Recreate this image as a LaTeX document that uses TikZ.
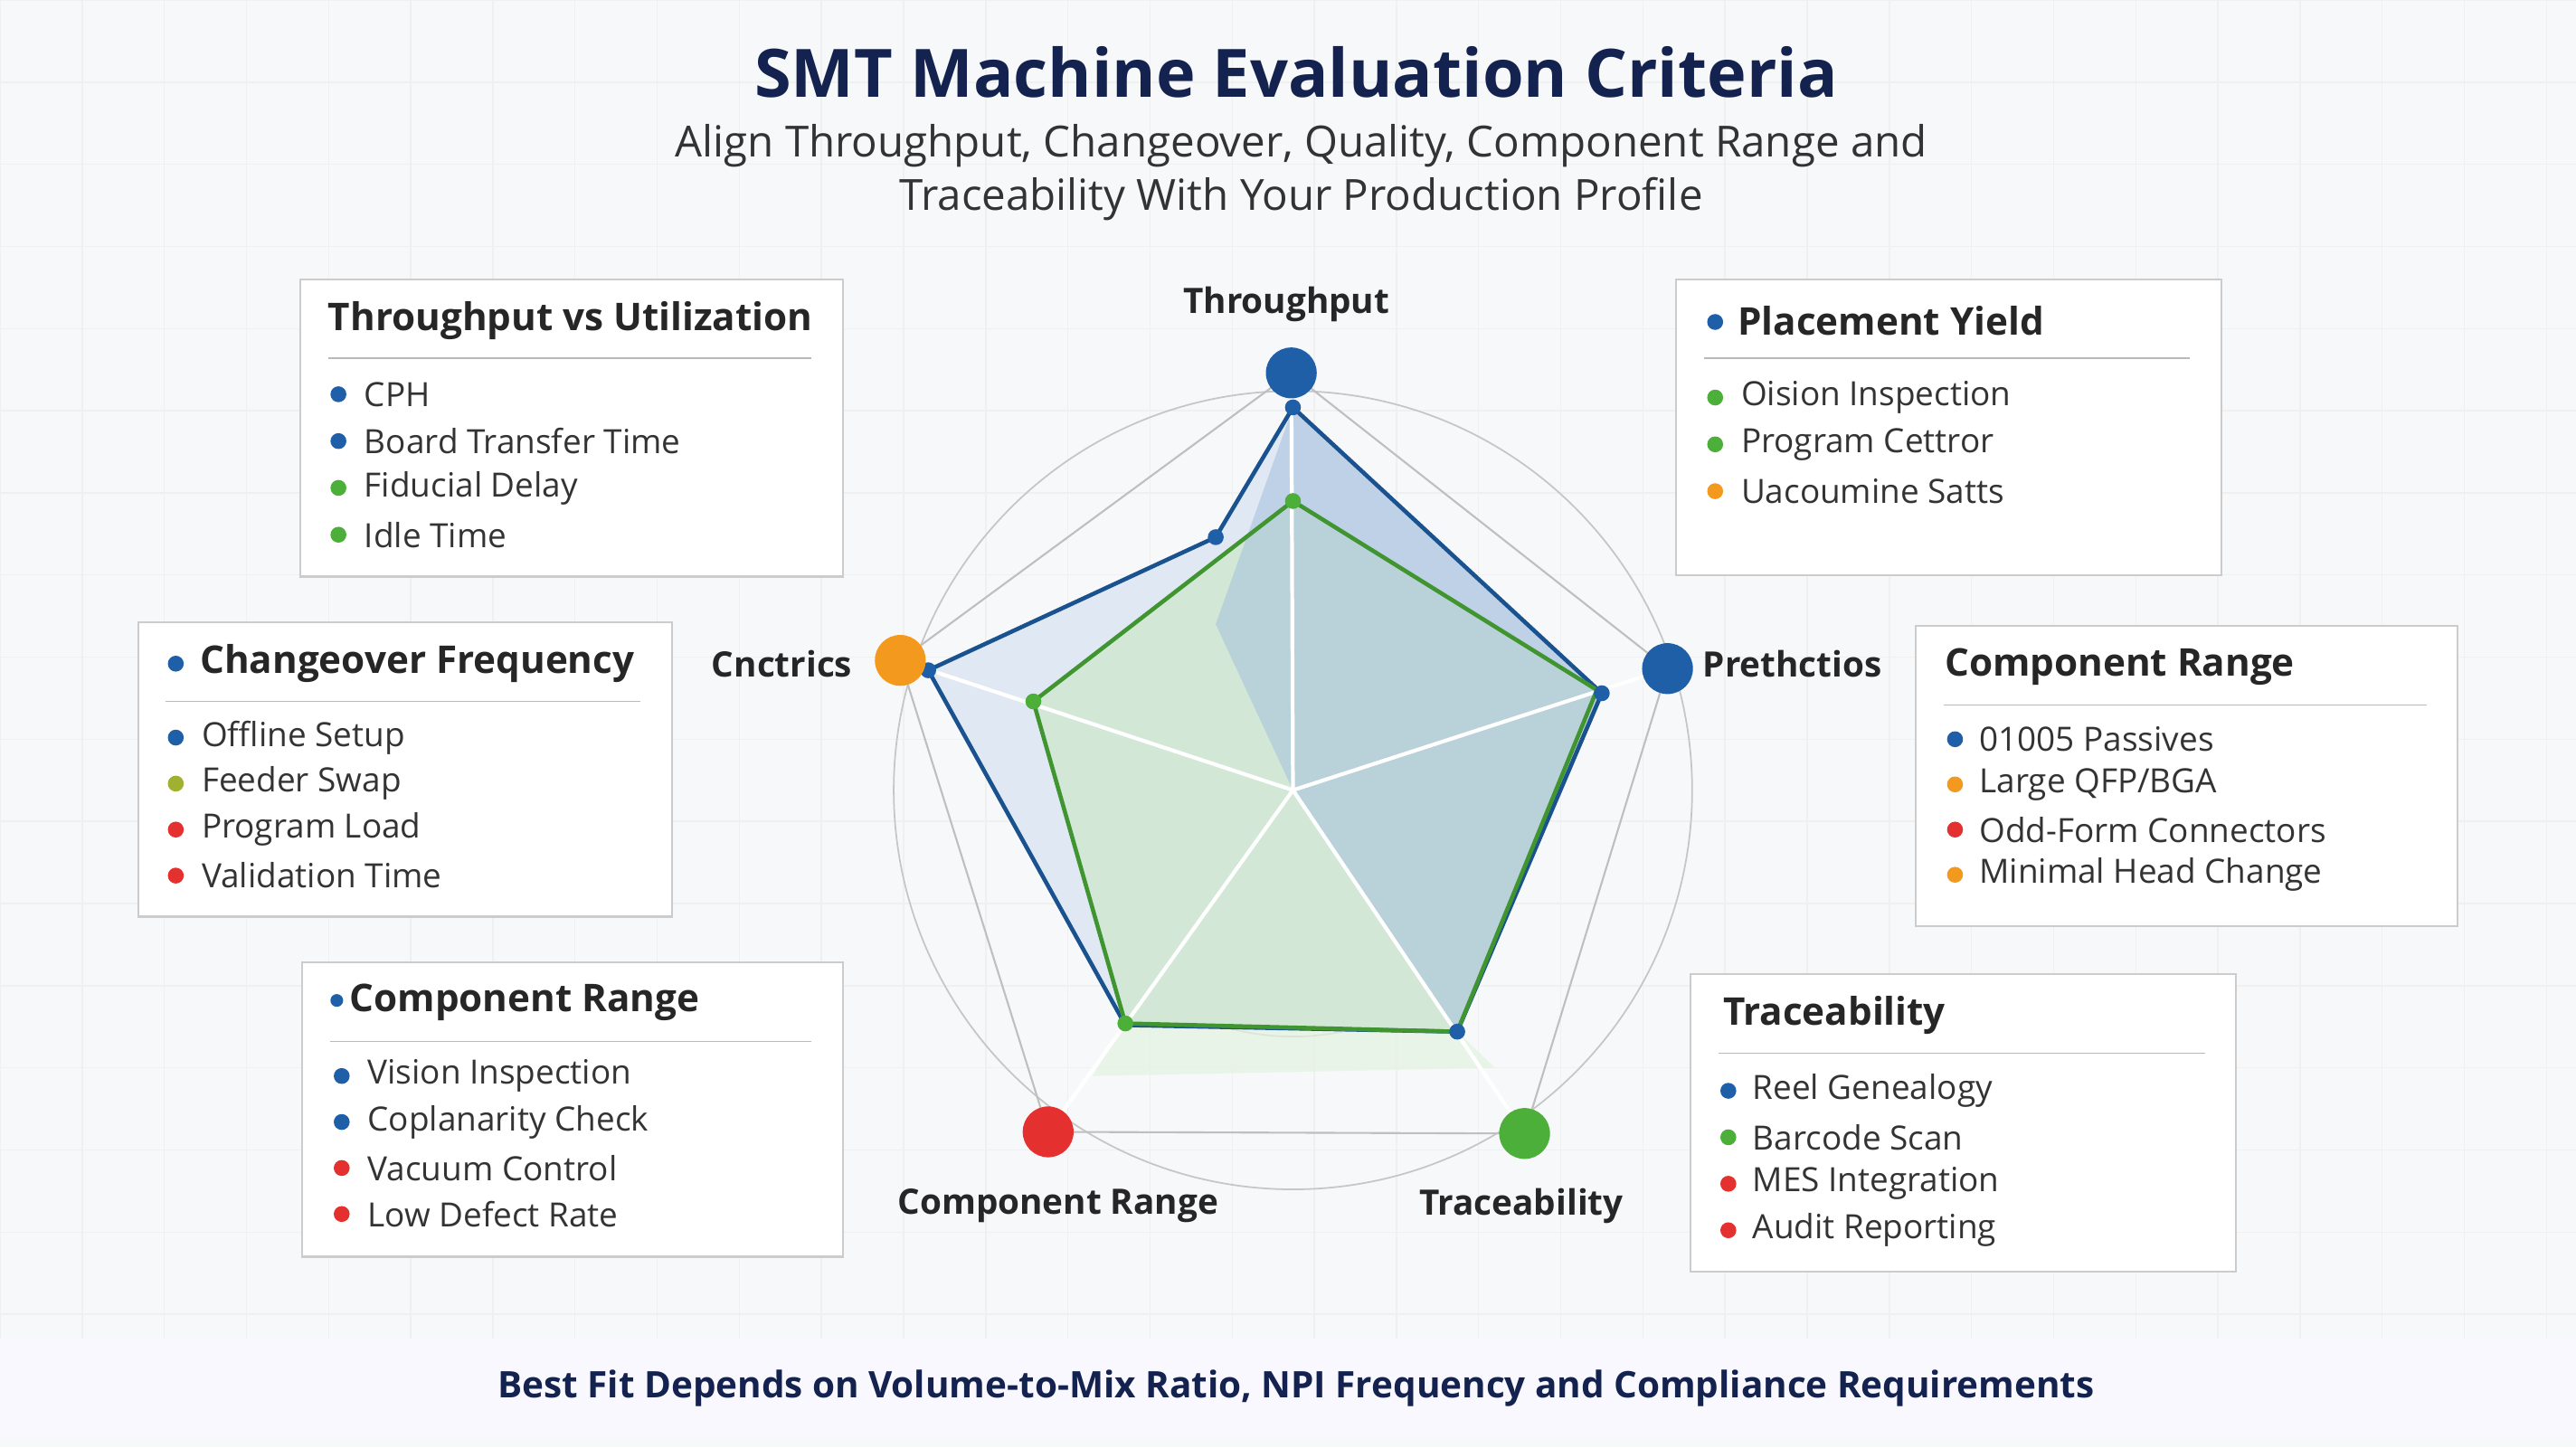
\documentclass[tikz,border=0pt]{standalone}
\usepackage{fontspec}
\setmainfont{Open Sans}
\begin{document}
\begin{tikzpicture}[x=0.018163cm,y=-0.018163cm,
 btitle/.style={anchor=west,font=\fontsize{12}{14}\selectfont\bfseries,text=black!85},
 item/.style={anchor=west,font=\fontsize{10.5}{12}\selectfont,text=black!80},
 axl/.style={font=\fontsize{11}{13}\selectfont\bfseries,text=black!85},
 dot/.style={circle,inner sep=0pt,minimum size=5pt}]
\definecolor{cb}{HTML}{1F5FA8}\definecolor{cg}{HTML}{4CAF3A}
\definecolor{co}{HTML}{F39A1E}\definecolor{cr}{HTML}{E53030}
\definecolor{cl}{HTML}{A0B030}\definecolor{navy}{HTML}{14224F}
\definecolor{bg}{HTML}{F7F8FA}
\useasboundingbox (0,0) rectangle (1568,881);
\fill[bg] (0,0) rectangle (1568,881);
\foreach \x in {0,50,...,1550} \draw[gray!12] (\x,0) -- (\x,815);
\foreach \y in {0,50,...,800} \draw[gray!12] (0,\y) -- (1568,\y);
\node[font=\fontsize{21}{24}\selectfont\bfseries,text=navy] (title) at (789,44) {SMT Machine Evaluation Criteria};
\node[font=\fontsize{13.5}{17}\selectfont,text=black!80,align=center] (sub) at (792,105) {Align Throughput, Changeover, Quality, Component Range and\\Traceability With Your Production Profile};
% radar
\coordinate (c) at (787,481);
\foreach \r in {50,100,150,243} \draw[gray!45,line width=0.5pt] (c) circle (\r);
\fill[cb!14] (787,248) -- (975,422) -- (887,628) -- (685,624) -- (565,408) -- (740,327) -- cycle;
\fill[cg!30,opacity=0.6] (787,305) -- (972,420) -- (887,628) -- (685,623) -- (629,427) -- cycle;
\fill[cg!15,opacity=0.7] (685,623) -- (887,628) -- (910,650) -- (665,655) -- cycle;
\fill[cb!40,opacity=0.55] (787,248) -- (975,422) -- (887,628) -- (787,481) -- (740,380) -- cycle;
\foreach \p in {(786,227),(1015,407),(928,690),(638,689),(548,402)} \draw[white,line width=1.2pt] (c) -- \p;
\draw[gray!50,line width=0.6pt] (786,227) -- (1015,407) -- (928,690) -- (638,689) -- (548,402) -- cycle;
\draw[cb!85!black,line width=1.3pt] (787,248) -- (975,422) -- (887,628) -- (685,624) -- (565,408) -- (740,327) -- cycle;
\draw[cg!85!black,line width=1.3pt] (787,305) -- (972,420) -- (887,628) -- (685,623) -- (629,427) -- cycle;
\foreach \p/\cc in {(787,248)/cb,(975,422)/cb,(887,628)/cb,(740,327)/cb,(565,408)/cb,(787,305)/cg,(629,427)/cg,(685,623)/cg}
  \node[dot,fill=\cc] at \p {};
\node[circle,fill=cb,minimum size=16pt,inner sep=0pt] (m1) at (786,227) {};
\node[circle,fill=cb,minimum size=16pt,inner sep=0pt] (m2) at (1015,407) {};
\node[circle,fill=cg,minimum size=16pt,inner sep=0pt] (m3) at (928,690) {};
\node[circle,fill=cr,minimum size=16pt,inner sep=0pt] (m4) at (638,689) {};
\node[circle,fill=co,minimum size=16pt,inner sep=0pt] (m5) at (548,402) {};
\node[axl] (l1) at (783,185) {Throughput};
\node[axl] (l2) at (1091,404) {Prethctios};
\node[axl] (l5) at (476,404) {Cnctrics};
\node[axl] (l4) at (644,734) {Component Range};
\node[axl] (l3) at (926,734) {Traceability};
% boxes
\newcommand{\mybox}[4]{%
 \draw[gray!40,fill=white,line width=0.6pt] (#1,#2) rectangle (#3,#4);
 \draw[gray!55] (#1+17,#2+48) -- (#3-19,#2+48);
}
\mybox{183}{170}{513}{351}
\node[btitle] (t1) at (193,195) {Throughput vs Utilization};
\foreach \t/\cc [count=\i] in {CPH/cb,Board Transfer Time/cb,Fiducial Delay/cg,Idle Time/cg}
 {\node[dot,fill=\cc] at (206,240+28.5*\i-28.5) {};\node[item] at (215,240+28.5*\i-28.5) {\t};}
\mybox{1020}{170}{1352}{350}
\node[dot,fill=cb] at (1044,196) {};\node[btitle] (t2) at (1051,195) {Placement Yield};
\foreach \t/\cc [count=\i] in {Oision Inspection/cg,Program Cettror/cg,Uacoumine Satts/co}
 {\node[dot,fill=\cc] at (1044,242+28.5*\i-28.5) {};\node[item] at (1053,242+28.5*\i-28.5) {\t};}
\mybox{84}{379}{409}{558}
\node[dot,fill=cb] at (107,404) {};\node[btitle] (t3) at (115,404) {Changeover Frequency};
\foreach \t/\cc [count=\i] in {Offline Setup/cb,Feeder Swap/cl,Program Load/cr,Validation Time/cr}
 {\node[dot,fill=\cc] at (107,449+28*\i-28) {};\node[item] at (116,449+28*\i-28) {\t};}
\mybox{1166}{381}{1496}{564}
\node[btitle] (t4) at (1177,406) {Component Range};
\foreach \t/\cc [count=\i] in {01005 Passives/cb,{Large QFP/BGA}/co,Odd-Form Connectors/cr,Minimal Head Change/co}
 {\node[dot,fill=\cc] at (1190,450+27.5*\i-27.5) {};\node[item] at (1198,450+27.5*\i-27.5) {\t};}
\mybox{184}{586}{513}{765}
\node[dot,fill=cb,minimum size=4pt] at (205,609) {};\node[btitle] (t5) at (206,610) {Component Range};
\foreach \t/\cc [count=\i] in {Vision Inspection/cb,Coplanarity Check/cb,Vacuum Control/cr,Low Defect Rate/cr}
 {\node[dot,fill=\cc] at (208,655+28*\i-28) {};\node[item] at (217,655+28*\i-28) {\t};}
\mybox{1029}{593}{1361}{774}
\node[btitle] (t6) at (1042,618) {Traceability};
\foreach \t/\cc [count=\i] in {Reel Genealogy/cb,Barcode Scan/cg,MES Integration/cr,Audit Reporting/cr}
 {\node[dot,fill=\cc] at (1052,664+28.3*\i-28.3) {};\node[item] at (1060,664+28.3*\i-28.3) {\t};}
% footer
\fill[gray!18!blue!3!white] (0,815) rectangle (1568,875);
\node[font=\fontsize{11.5}{14}\selectfont\bfseries,text=navy] (foot) at (789,845) {Best Fit Depends on Volume-to-Mix Ratio, NPI Frequency and Compliance Requirements};
\end{tikzpicture}
\end{document}
